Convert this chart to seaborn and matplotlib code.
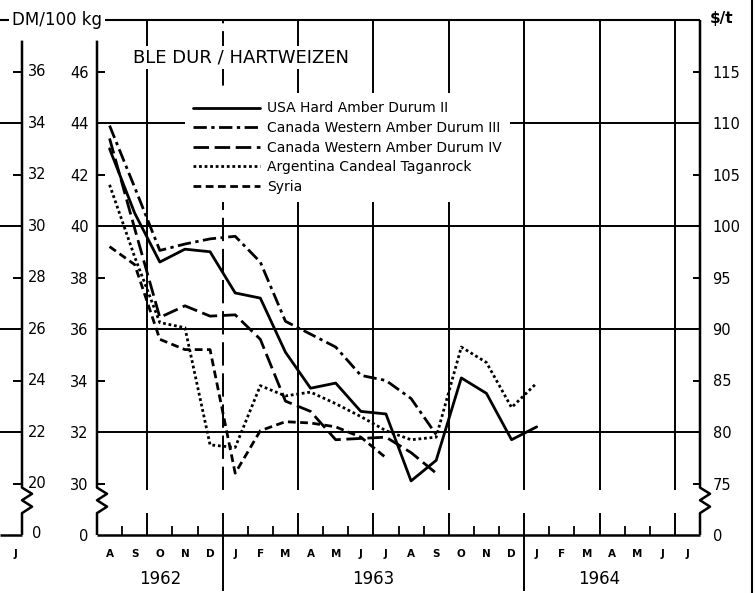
#Ble dur / Hartweizen - precos 1962-1964

import numpy as np
import pandas as pd
import matplotlib.pyplot as plt
import seaborn as sns

#Eixo x: meses de ago/1962 a jul/1964
meses = ['A', 'S', 'O', 'N', 'D', 'J', 'F', 'M', 'A', 'M', 'J', 'J',
         'A', 'S', 'O', 'N', 'D', 'J', 'F', 'M', 'A', 'M', 'J', 'J']
anos = ['1962', '1963', '1964']
anos_pos = [2.5, 11.0, 20.0]

#Precos em DM/100 kg, a partir de ago/1962
usa = [43.0, 40.5, 38.6, 39.1, 39.0, 37.4, 37.2, 35.1, 33.7, 33.9, 32.8, 32.7,
       30.1, 30.9, 34.1, 33.5, 31.7, 32.2]
canada3 = [43.9, 41.5, 39.05, 39.3, 39.5, 39.6, 38.6, 36.3, 35.8, 35.3, 34.2, 34.0,
           33.3, 31.9]
canada4 = [43.4, 39.9, 36.45, 36.9, 36.5, 36.55, 35.6, 33.2, 32.8, 31.7, 31.75, 31.8,
           31.2, 30.4]
argentina = [41.6, 38.8, 36.25, 36.05, 31.5, 31.4, 33.8, 33.4, 33.55, 33.1, 32.6, 32.05,
             31.7, 31.8, 35.3, 34.7, 32.95, 33.9]
syria = [39.2, 38.5, 35.6, 35.2, 35.2, 30.4, 32.05, 32.4, 32.35, 32.2, 31.8, 31.0]

nomes = ['USA Hard Amber Durum II', 'Canada Western Amber Durum III',
         'Canada Western Amber Durum IV', 'Argentina Candeal Taganrock', 'Syria']
series = [usa, canada3, canada4, argentina, syria]

#Escalas: DM interno, escala externa (DM-10) e $/t
dm_ticks = [30, 32, 34, 36, 38, 40, 42, 44, 46]
ext_ticks = [20, 22, 24, 26, 28, 30, 32, 34, 36]
usd_ticks = [75, 80, 85, 90, 95, 100, 105, 110, 115]

linhas = []
for nome, vals in zip(nomes, series):
    for i, p in enumerate(vals):
        linhas.append((nome, i + 0.5, p))
df = pd.DataFrame(linhas, columns=['serie', 'mes', 'preco'])

sns.set_theme(style='white')
plt.rcParams['font.family'] = ['DejaVu Sans']
plt.rcParams['text.color'] = 'black'
plt.rcParams['xtick.color'] = 'black'
plt.rcParams['ytick.color'] = 'black'

fig = plt.figure(figsize=(7.55, 5.93), dpi=100)
ax = fig.add_axes([97 / 755, 58 / 593, 603 / 755, 515 / 593])

tracos = {nomes[0]: '', nomes[1]: (4.8, 1.6, 1.2, 1.6), nomes[2]: (5.6, 2.0),
          nomes[3]: (1.0, 1.0), nomes[4]: (2.8, 1.6)}
sns.lineplot(data=df, x='mes', y='preco', style='serie', style_order=nomes,
             dashes=tracos, color='black', lw=2.0, errorbar=None, legend=False,
             ax=ax, zorder=3)
handles = list(ax.lines[:5])

ax.set_xlim(0, 24)
ax.set_ylim(28, 48)
ax.set_xlabel('')
ax.set_ylabel('')
for s in ax.spines.values():
    s.set_visible(False)

k = dict(color='black', clip_on=False, solid_capstyle='butt')
x_ext = -2.985
x_fim = -3.86
trimestres = [2, 5, 8, 11, 14, 17, 20, 23]

#grade horizontal (interrompida entre as duas escalas da esquerda)
for v in [32, 36, 40, 44]:
    ax.plot([0, 24], [v, v], lw=1.4, zorder=1, **k)
    ax.plot([x_fim, x_ext], [v, v], lw=1.4, zorder=1, **k)

#grade vertical (trimestres)
for i in trimestres:
    if i == 5:
        ax.plot([i, i], [29.73, 48], lw=1.4, ls=(0, (12, 4)), zorder=1, **k)
    else:
        ax.plot([i, i], [29.73, 48], lw=1.4, zorder=1, **k)
    ax.plot([i, i], [28, 28.85], lw=1.4, zorder=1, **k)
for i in [5, 17]:
    ax.plot([i, i], [25.84, 28], lw=1.4, **k)
for i in range(1, 24):
    if i not in trimestres:
        ax.plot([i, i], [28, 28.35], lw=1.3, **k)

#eixos com quebra
def eixo(x, topo):
    xs = [x, x, x + 0.4, x, x + 0.4, x, x]
    ys = [topo, 29.84, 29.6, 29.35, 29.1, 28.85, 28]
    ax.plot(xs, ys, lw=1.8, zorder=2, **k)

eixo(0, 47.2)
eixo(24, 48)
eixo(x_ext, 47.2)
ax.plot([0, 24], [28, 28], lw=1.8, **k)
ax.plot([x_fim, x_ext], [28, 28], lw=1.8, **k)
ax.plot([x_fim, 24], [48, 48], lw=1.5, **k)

for v in [30, 34, 38, 42, 46]:
    ax.plot([0, 0.3], [v, v], lw=1.4, **k)
    ax.plot([24 - 0.28, 24], [v, v], lw=1.4, **k)
    ax.plot([x_ext - 0.36, x_ext], [v, v], lw=1.4, **k)

#rotulos eixo DM
ax.set_yticks([28] + dm_ticks, ['0'] + [str(t) for t in dm_ticks])
ax.tick_params(axis='y', length=0, pad=6, labelsize=10.5, labelcolor='black')
ax.set_xticks(np.arange(24) + 0.5, meses)
ax.tick_params(axis='x', length=0, pad=10, labelsize=7.5, labelcolor='black')
for t in ax.get_xticklabels():
    t.set_fontweight('bold')

#eixo $/t
ax2 = ax.twinx()
ax2.set_ylim(70, 120)
ax2.set_yticks([70] + usd_ticks, ['0'] + [str(t) for t in usd_ticks])
ax2.tick_params(axis='y', length=0, pad=9, labelsize=10.5, labelcolor='black')
for s in ax2.spines.values():
    s.set_visible(False)
ax2.grid(False)

#escala externa
for t in ext_ticks:
    ax.text(-2.75, t + 10, str(t), ha='left', va='center', fontsize=10.5)
ax.text(-2.6, 28.05, '0', ha='left', va='center', fontsize=10.5)
ax.text(-3.26, 27.28, 'J', ha='center', va='center', fontsize=7.5, fontweight='bold')

for a, x in zip(anos, anos_pos):
    ax.text(x, 26.31, a, ha='center', va='center', fontsize=12)

branco = dict(facecolor='white', edgecolor='none', pad=1.5)
ax.text(1.43, 46.54, 'BLE DUR / HARTWEIZEN', ha='left', va='center',
        fontsize=13, bbox=branco, zorder=6)
ax.text(-1.59, 48.0, 'DM/100 kg', ha='center', va='center', fontsize=12,
        bbox=dict(facecolor='white', edgecolor='none', pad=2), zorder=6)
ax.text(24.4, 48.05, '$/t', ha='left', va='center', fontsize=11, fontweight='bold')

leg = ax.legend(handles, nomes, loc='upper left', bbox_to_anchor=(0.146, 0.858),
                frameon=True, fancybox=False, facecolor='white', edgecolor='none',
                framealpha=1, fontsize=10, handlelength=4.8, handletextpad=0.5,
                labelspacing=0.4, borderpad=0.6, borderaxespad=0)
leg.set_zorder(5)
for t in leg.get_texts():
    t.set_color('black')

fig.add_artist(plt.Line2D([752 / 755, 752 / 755], [0, 1], color='black', lw=1.5,
                          transform=fig.transFigure))

fig.savefig('out.png', dpi=100, facecolor='white')
